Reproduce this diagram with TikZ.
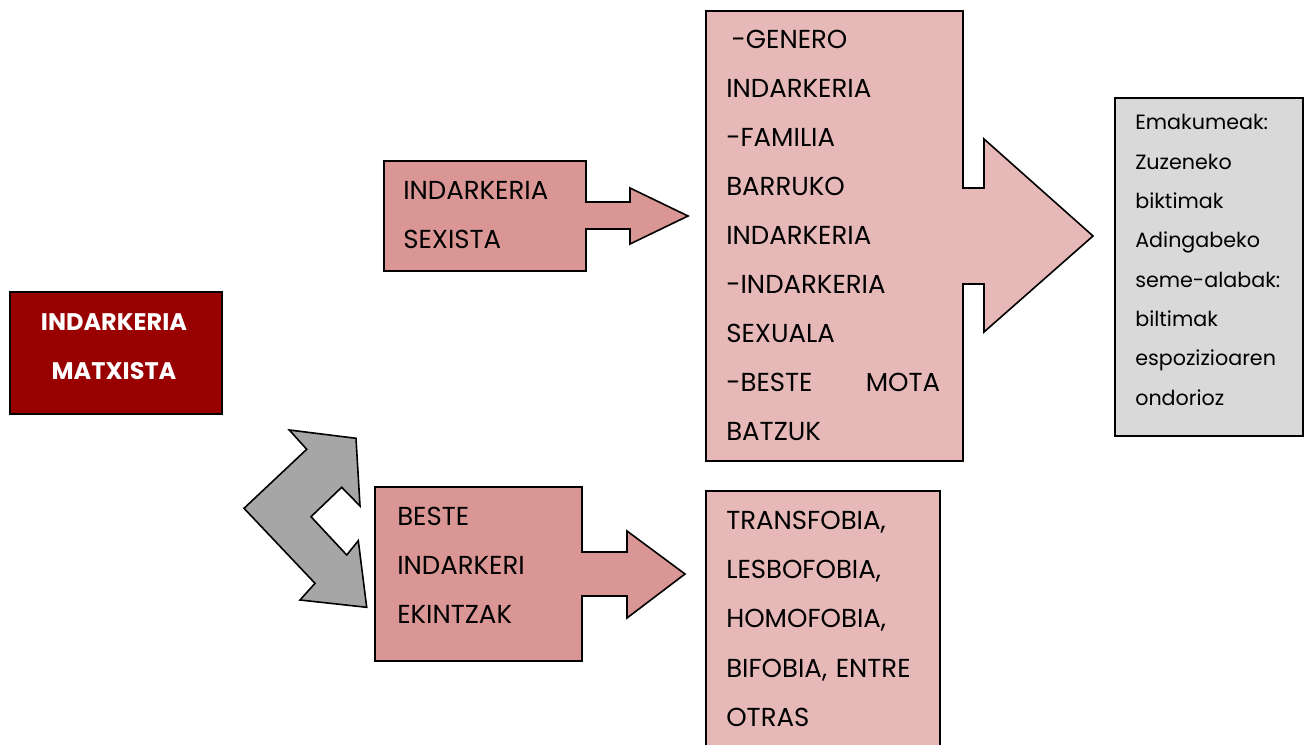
\documentclass[tikz,border=0pt]{standalone}
\usepackage{fontspec}
\setmainfont{Poppins}
\definecolor{darkred}{HTML}{990000}
\definecolor{pinkmid}{HTML}{D99694}
\definecolor{pinklight}{HTML}{E6B8B7}
\definecolor{grayarrow}{HTML}{A6A6A6}
\definecolor{graybox}{HTML}{D9D9D9}
\begin{document}
\begin{tikzpicture}[x=0.75pt,y=-0.75pt,
  outline/.style={draw=black, line width=1.2pt, line join=miter},
  bigtxt/.style={anchor=base west, inner sep=0pt, align=left, font=\fontsize{19.5}{36.75}\selectfont},
  smalltxt/.style={anchor=base west, inner sep=0pt, align=left, font=\fontsize{15.5}{29.5}\selectfont}]
\useasboundingbox (0,0) rectangle (1310,745);

% main box
\draw[outline, fill=darkred] (10,292) rectangle (222,414);
\node[anchor=base, inner sep=0pt, text width=150pt, align=center, text=white,
      font=\fontsize{18}{36.75}\selectfont\bfseries] (main) at (114,330) {INDARKERIA\\MATXISTA};

% sexista callout
\draw[outline, fill=pinkmid] (384,161) -- (586,161) -- (586,202) -- (630,202) -- (630,188)
  -- (688,216) -- (630,244) -- (630,229) -- (586,229) -- (586,271) -- (384,271) -- cycle;
\node[bigtxt, text width=140pt] (sexista) at (403,200) {INDARKERIA\\SEXISTA};

% big callout
\draw[outline, fill=pinklight] (706,11) -- (963,11) -- (963,188) -- (984,188) -- (984,139)
  -- (1093,236) -- (984,332) -- (984,284) -- (963,284) -- (963,461) -- (706,461) -- cycle;
\node[bigtxt, text width=160.5pt] (types) at (726,49)
  {\hspace*{4pt}-GENERO\\INDARKERIA\\-FAMILIA\\BARRUKO\\INDARKERIA\\-INDARKERIA\\SEXUALA\\-BESTE\hfill MOTA\\BATZUK};

% gray box
\draw[outline, fill=graybox] (1115,98) rectangle (1303,436);
\node[smalltxt, text width=135pt] (victims) at (1135,130)
  {Emakumeak:\\Zuzeneko\\biktimak\\Adingabeko\\seme-alabak:\\biltimak\\espozizioaren\\ondorioz};

% gray chevron
\draw[outline, fill=grayarrow] (289.3,430) -- (356,438.3) -- (360,506) -- (341.7,487.3)
  -- (311,516.7) -- (346.7,555) -- (358.3,540.7) -- (366.7,607.3) -- (300,600)
  -- (315,583.3) -- (244,508.3) -- (306.7,449.3) -- cycle;

% lower callout
\draw[outline, fill=pinkmid] (375,487) -- (582,487) -- (582,552) -- (627,552) -- (627,531)
  -- (685,574) -- (627,618) -- (627,596) -- (582,596) -- (582,661) -- (375,661) -- cycle;
\node[bigtxt, text width=140pt] (other) at (397,525) {BESTE\\INDARKERI\\EKINTZAK};

% fobia box
\fill[pinklight] (706,491) rectangle (940,750);
\draw[outline] (706,750) -- (706,491) -- (940,491) -- (940,750);
\node[bigtxt, text width=170pt, font=\fontsize{19.5}{37.1}\selectfont] (fobia) at (726,529)
  {TRANSFOBIA,\\LESBOFOBIA,\\HOMOFOBIA,\\BIFOBIA, ENTRE\\OTRAS};
\end{tikzpicture}
\end{document}
